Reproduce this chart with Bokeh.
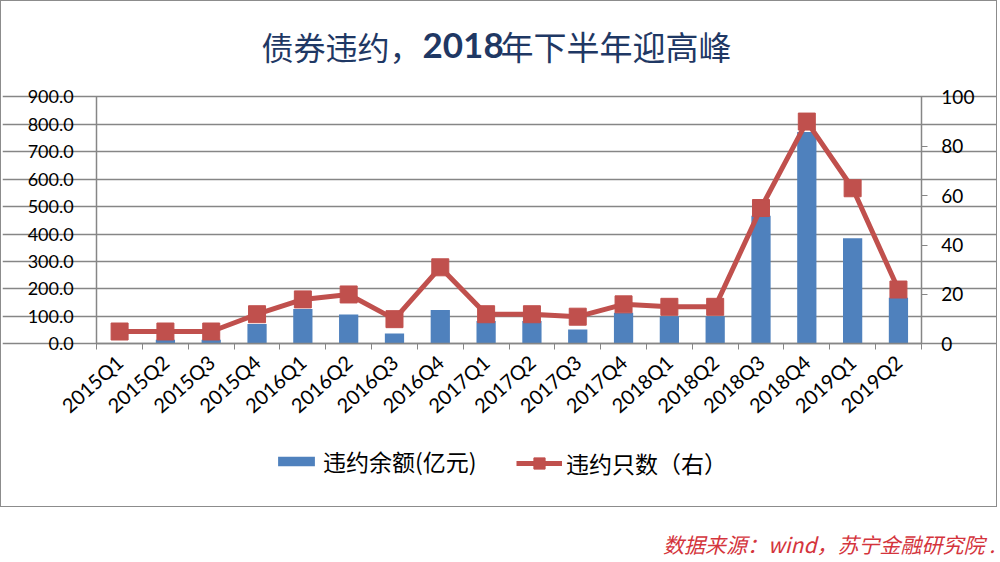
import math
from bokeh.plotting import figure
from bokeh.models import (Range1d, LinearAxis, FixedTicker, NumeralTickFormatter,
                          Legend, LegendItem, Div, ColumnDataSource, Label)
from bokeh.layouts import column
from bokeh.embed import file_html
from bokeh.resources import INLINE

# ---- data ----
quarters = ["2015Q1", "2015Q2", "2015Q3", "2015Q4", "2016Q1", "2016Q2", "2016Q3", "2016Q4",
            "2017Q1", "2017Q2", "2017Q3", "2017Q4", "2018Q1", "2018Q2", "2018Q3", "2018Q4",
            "2019Q1", "2019Q2"]
default_amount = [0, 15, 15, 72, 127, 107, 38, 123, 83, 83, 52, 113, 101, 101, 467, 772, 385, 168]
default_count = [5, 5, 5, 12, 18, 20, 10, 31, 12, 12, 11, 16, 15, 15, 55, 90, 63, 22]
left_ticks = [0, 100, 200, 300, 400, 500, 600, 700, 800, 900]
right_ticks = [0, 20, 40, 60, 80, 100]

title_parts = ["债券违约，", "2018", "年下半年迎高峰"]
bar_label = "违约余额(亿元)"
line_label = "违约只数（右）"
source_text = "数据来源：wind，苏宁金融研究院 ."

BLUE = "#4F81BD"
RED = "#C0504D"
GRID = "#868686"
TITLE_C = "#1F3864"
FONT = "Lato"
CJK = "Noto Sans CJK SC"

n = len(quarters)
xpos = [i + 0.5 for i in range(n)]
src = ColumnDataSource(dict(x=xpos, q=quarters, amount=default_amount, count=default_count))

# ---- layout (pixels) ----
FIG_W, FIG_H = 995, 505
FRAME_L, FRAME_R, FRAME_T, FRAME_B = 1, 994, 1, 500   # frame spans almost the whole figure
AREA_L, AREA_R, AREA_T, AREA_B = 95, 918, 95, 341     # plot area
ppu = (AREA_R - AREA_L) / n
x_start = (FRAME_L - AREA_L) / ppu
x_end = n + (FRAME_R - AREA_R) / ppu
h = AREA_B - AREA_T
top_extra = (AREA_T - FRAME_T) / h
bot_extra = (FRAME_B - AREA_B) / h
left_max, right_max = left_ticks[-1], right_ticks[-1]

p = figure(frame_width=FRAME_R - FRAME_L, frame_height=FRAME_B - FRAME_T, title=None,
           x_range=Range1d(x_start, x_end),
           y_range=Range1d(-left_max * bot_extra, left_max * (1 + top_extra)),
           output_backend="svg", toolbar_location=None,
           min_border_left=FRAME_L, min_border_right=FIG_W - FRAME_R,
           min_border_top=FRAME_T, min_border_bottom=FIG_H - FRAME_B)
p.extra_y_ranges = {"right": Range1d(-right_max * bot_extra, right_max * (1 + top_extra))}
p.outline_line_color = None
p.background_fill_color = "white"
p.border_fill_color = "white"

# x axis (drawn at value 0 inside the frame)
xa = p.xaxis[0]
xa.fixed_location = 0
xa.bounds = (0, n)
xa.ticker = FixedTicker(ticks=xpos, minor_ticks=list(range(n + 1)))
xa.major_label_overrides = {x: q for x, q in zip(xpos, quarters)}
xa.major_label_orientation = math.radians(42)
xa.major_label_text_font = FONT
xa.major_label_text_font_size = "20px"
xa.major_label_text_color = "#000000"
xa.major_label_standoff = 9
xa.major_tick_line_color = None
xa.minor_tick_line_color = GRID
xa.minor_tick_out = 6
xa.minor_tick_in = 0
xa.axis_line_color = GRID
xa.axis_line_width = 1.5
p.xgrid.visible = False

# left axis
ya = p.yaxis[0]
ya.fixed_location = 0
ya.bounds = (0, left_max)
ya.ticker = FixedTicker(ticks=left_ticks)
ya.formatter = NumeralTickFormatter(format="0.0")
ya.major_label_text_font = FONT
ya.major_label_text_font_size = "18px"
ya.major_label_text_color = "#000000"
ya.major_label_standoff = 17
ya.major_tick_out = 6
ya.major_tick_in = 0
ya.major_tick_line_color = GRID
ya.minor_tick_line_color = None
ya.axis_line_color = GRID
ya.axis_line_width = 1.5
p.ygrid.ticker = FixedTicker(ticks=left_ticks)
p.ygrid.bounds = (0, n)
p.ygrid.grid_line_color = GRID
p.ygrid.grid_line_width = 1.5

# right axis
ra = LinearAxis(y_range_name="right", ticker=FixedTicker(ticks=right_ticks))
ra.fixed_location = n
ra.bounds = (0, right_max)
ra.major_label_text_font = FONT
ra.major_label_text_font_size = "19px"
ra.major_label_text_color = "#000000"
ra.major_label_standoff = 14
ra.major_tick_out = 6
ra.major_tick_in = 0
ra.major_tick_line_color = GRID
ra.minor_tick_line_color = None
ra.axis_line_color = GRID
ra.axis_line_width = 1.5
p.add_layout(ra, "right")

# glyphs
bars = p.vbar(x="x", top="amount", width=0.42, source=src, fill_color=BLUE, line_color=None)
ln = p.line(x="x", y="count", source=src, line_color=RED, line_width=5, y_range_name="right")
pts = p.scatter(x="x", y="count", source=src, marker="square", size=17,
                fill_color=RED, line_color=RED, y_range_name="right")

# title (three pieces so that "2018" can be bold)
ty = FRAME_B - 42
p.add_layout(Label(x=420 - FRAME_L, y=ty, x_units="screen", y_units="screen", text=title_parts[0],
                   text_align="right", text_baseline="middle", text_font=CJK,
                   text_font_size="32px", text_color=TITLE_C))
p.add_layout(Label(x=421 - FRAME_L, y=ty, x_units="screen", y_units="screen", text=title_parts[1],
                   text_align="left", text_baseline="middle", text_font=FONT,
                   text_font_style="bold", text_font_size="35px", text_color=TITLE_C))
p.add_layout(Label(x=499 - FRAME_L, y=ty, x_units="screen", y_units="screen", text=title_parts[2],
                   text_align="left", text_baseline="middle", text_font=CJK,
                   text_font_size="33px", text_color=TITLE_C))

common = dict(orientation="horizontal", border_line_color=None, background_fill_alpha=0,
              label_text_font=CJK, label_text_font_size="23px", label_text_color="#000000",
              label_standoff=4, padding=0, margin=0)
legend1 = Legend(items=[LegendItem(label=bar_label, renderers=[bars])],
                 location=(272 - FRAME_L, 25), glyph_width=46, glyph_height=12, **common)
legend2 = Legend(items=[LegendItem(label=line_label, renderers=[ln, pts])],
                 location=(515 - FRAME_L, 23), glyph_width=46, glyph_height=28, **common)
p.add_layout(legend1, "center")
p.add_layout(legend2, "center")

p.styles = {"border": "1px solid #8c8c8c"}

div = Div(text=source_text, width=995, margin=(22, 0, 0, 0),
          styles={"color": "#D4343C", "font-style": "italic", "font-size": "21px",
                  "font-family": CJK, "text-align": "right", "width": "995px"})

layout = column(p, div, spacing=0)
open("out.html", "w").write(file_html(layout, INLINE))
